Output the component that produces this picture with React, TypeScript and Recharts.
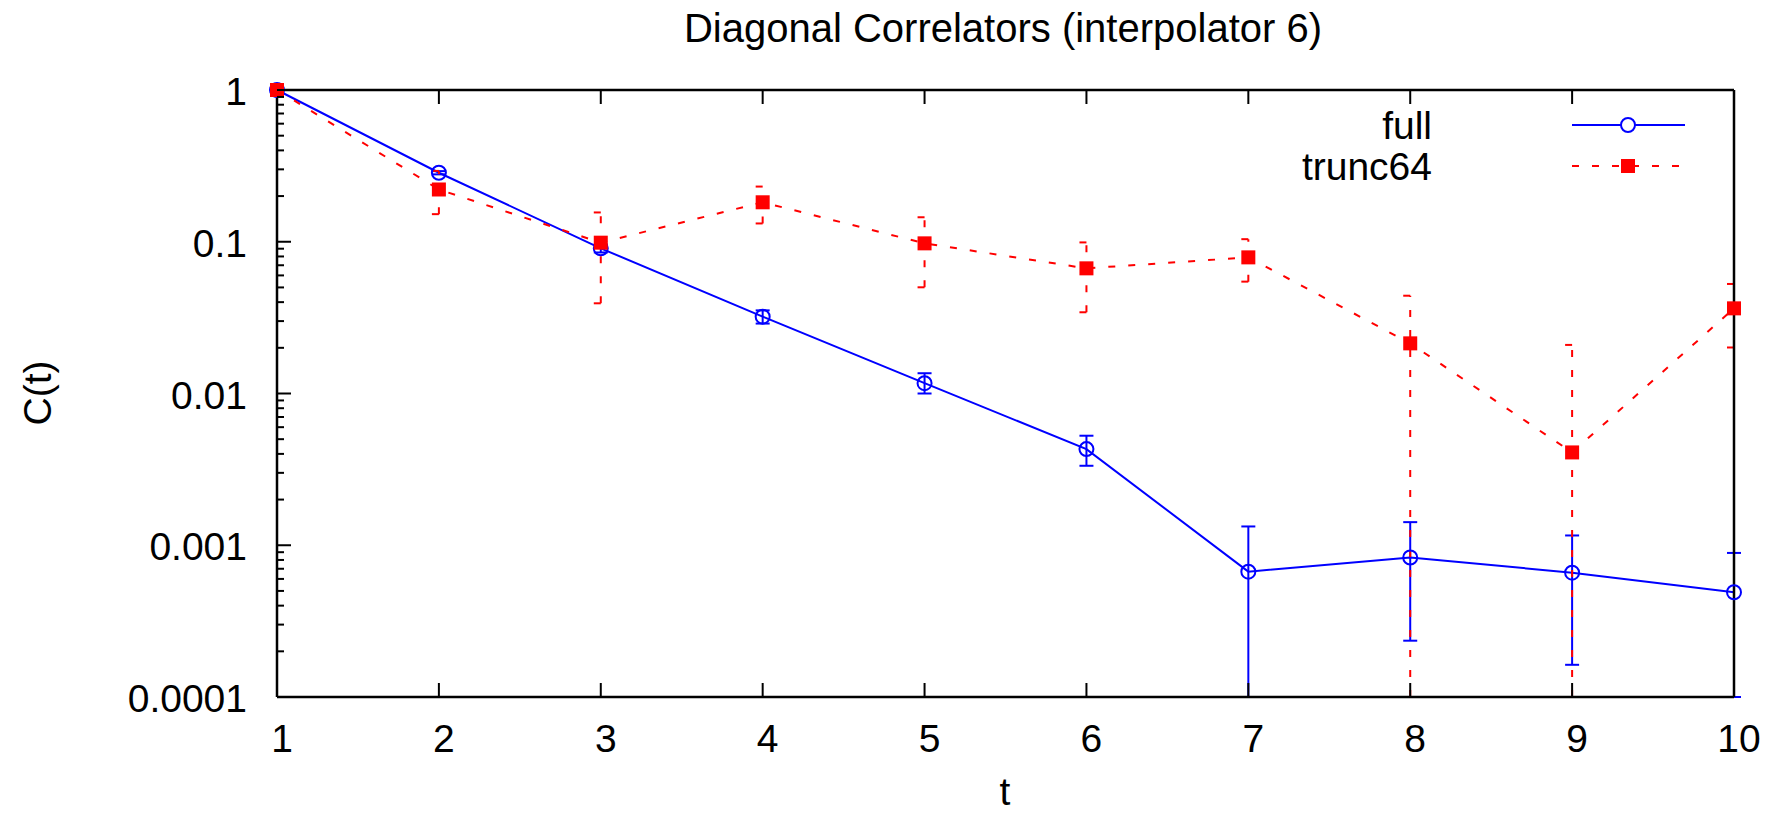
import React from 'react';
import { LineChart, Line, XAxis, YAxis, ErrorBar, Legend } from 'recharts';

// ---- data ----
const tValues = [1, 2, 3, 4, 5, 6, 7, 8, 9, 10];

const fullValues = [1.0, 0.285, 0.0905, 0.0321, 0.0117, 0.0043, 0.00067, 0.00083, 0.00066, 0.00049];
const fullLower = [1.0, 0.278, 0.085, 0.0289, 0.01, 0.00334, 0.0001, 0.000235, 0.000163, 0.0001];
const fullUpper = [1.0, 0.292, 0.096, 0.0353, 0.0136, 0.00527, 0.00133, 0.00142, 0.00116, 0.00089];

const truncValues = [1.0, 0.221, 0.0986, 0.182, 0.0976, 0.0668, 0.0789, 0.0214, 0.00409, 0.0364];
const truncLower = [1.0, 0.152, 0.0393, 0.132, 0.0501, 0.0343, 0.0546, 0.0001, 0.0001, 0.0201];
const truncUpper = [1.0, 0.293, 0.156, 0.231, 0.145, 0.099, 0.104, 0.0441, 0.0209, 0.0527];

const xTicks = [1, 2, 3, 4, 5, 6, 7, 8, 9, 10];
const xTickLabels = ['1', '2', '3', '4', '5', '6', '7', '8', '9', '10'];
const yMajorTicks = [1, 0.1, 0.01, 0.001, 0.0001];
const yTickLabels = ['1', '0.1', '0.01', '0.001', '0.0001'];
const minorMultipliers = [2, 3, 4, 5, 6, 7, 8, 9];

const seriesNames = { full: 'full', trunc: 'trunc64' };
const titleText = 'Diagonal Correlators (interpolator 6)';
const xLabel = 't';
const yLabel = 'C(t)';

// ---- derived tables ----
const yMinorTicks = yMajorTicks.slice(1).flatMap((d) => minorMultipliers.map((m) => m * d));
const yAllTicks = [...yMajorTicks, ...yMinorTicks].sort((a, b) => a - b);

const tableData = tValues.map((t, i) => ({
  t,
  full: fullValues[i],
  fullErr: [fullValues[i] - fullLower[i], fullUpper[i] - fullValues[i]],
  trunc: truncValues[i],
  truncErr: [truncValues[i] - truncLower[i], truncUpper[i] - truncValues[i]],
}));

const FONT = '"Liberation Sans", Arial, Helvetica, sans-serif';
const FS = 39;
const BLUE = '#0000ff';
const RED = '#ff0000';
const DASH = '7 13';

const majorIndex = (v: number) => yMajorTicks.findIndex((m) => Math.abs(v - m) / m < 1e-6);

const LeftTick = (p: any) => {
  const { x, y, payload } = p;
  const idx = majorIndex(payload.value);
  const len = idx >= 0 ? 14 : 7;
  return (
    <g>
      <line x1={x} x2={x + len} y1={y} y2={y} stroke="#000" strokeWidth={2} />
      {idx >= 0 && (
        <text x={x - 30} y={y + 15} textAnchor="end" fontSize={FS} fontFamily={FONT} fill="#000">
          {yTickLabels[idx]}
        </text>
      )}
    </g>
  );
};

const RightTick = (p: any) => {
  const { x, y, payload } = p;
  const idx = majorIndex(payload.value);
  const len = idx >= 0 ? 14 : 7;
  return <line x1={x} x2={x - len} y1={y} y2={y} stroke="#000" strokeWidth={2} />;
};

const BottomTick = (p: any) => {
  const { x, y, payload } = p;
  const idx = xTicks.indexOf(payload.value);
  return (
    <g>
      <line x1={x} x2={x} y1={y} y2={y - 14} stroke="#000" strokeWidth={2} />
      <text x={x + 5} y={y + 55} textAnchor="middle" fontSize={FS} fontFamily={FONT} fill="#000">
        {idx >= 0 ? xTickLabels[idx] : ''}
      </text>
    </g>
  );
};

const TopTick = (p: any) => {
  const { x, y } = p;
  return <line x1={x} x2={x} y1={y} y2={y + 14} stroke="#000" strokeWidth={2} />;
};

const CircleDot = (p: any) => {
  const { cx, cy } = p;
  if (cx == null || cy == null) return <g />;
  return <circle cx={cx} cy={cy} r={7} fill="none" stroke={BLUE} strokeWidth={2} />;
};

const SquareDot = (p: any) => {
  const { cx, cy } = p;
  if (cx == null || cy == null) return <g />;
  return <rect x={cx - 7} y={cy - 7} width={14} height={14} fill={RED} />;
};

const LegendContent = (props: any) => {
  const payload = props.payload || [];
  const rowY = [30, 71];
  return (
    <svg width={420} height={90} style={{ overflow: 'visible' }}>
      {payload.map((entry: any, i: number) => {
        const isFull = entry.dataKey === 'full';
        const y = rowY[i] ?? 30 + i * 41;
        return (
          <g key={i}>
            <text x={152} y={y + 14} textAnchor="end" fontSize={FS} fontFamily={FONT} fill="#000">
              {entry.value}
            </text>
            <line
              x1={292}
              x2={405}
              y1={y}
              y2={y}
              stroke={isFull ? BLUE : RED}
              strokeWidth={2}
              strokeDasharray={isFull ? undefined : DASH}
            />
            {isFull ? (
              <circle cx={348} cy={y} r={7} fill="#fff" stroke={BLUE} strokeWidth={2} />
            ) : (
              <rect x={341} y={y - 7} width={14} height={14} fill={RED} />
            )}
          </g>
        );
      })}
    </svg>
  );
};

export default function App() {
  return (
    <div
      style={{
        position: 'fixed',
        left: 0,
        top: 0,
        width: 1774,
        height: 816,
        overflow: 'hidden',
        background: '#fff',
        fontFamily: FONT,
      }}
    >
      <LineChart
        width={1774}
        height={816}
        data={tableData}
        margin={{ top: 80, right: 30, bottom: 0, left: 0 }}
      >
        <Line
          xAxisId="bottom"
          yAxisId="left"
          type="linear"
          dataKey="full"
          name={seriesNames.full}
          stroke={BLUE}
          strokeWidth={2}
          dot={(p: any) => <CircleDot key={`c${p.index}`} {...p} />}
          activeDot={false}
          isAnimationActive={false}
        >
          <ErrorBar dataKey="fullErr" direction="y" width={7} stroke={BLUE} strokeWidth={2} isAnimationActive={false} />
        </Line>
        <Line
          xAxisId="bottom"
          yAxisId="left"
          type="linear"
          dataKey="trunc"
          name={seriesNames.trunc}
          stroke={RED}
          strokeWidth={2}
          strokeDasharray={DASH}
          dot={(p: any) => <SquareDot key={`s${p.index}`} {...p} />}
          activeDot={false}
          isAnimationActive={false}
        >
          <ErrorBar
            dataKey="truncErr"
            direction="y"
            width={7}
            stroke={RED}
            strokeWidth={2}
            strokeDasharray={DASH}
            isAnimationActive={false}
          />
        </Line>
        <XAxis
          xAxisId="bottom"
          dataKey="t"
          type="number"
          domain={[1, 10]}
          ticks={xTicks}
          interval={0}
          orientation="bottom"
          height={119}
          tickSize={0}
          tickMargin={0}
          tickLine={false}
          axisLine={{ stroke: '#000', strokeWidth: 2.5 }}
          tick={(p: any) => <BottomTick {...p} />}
        />
        <XAxis
          xAxisId="top"
          type="number"
          domain={[1, 10]}
          ticks={xTicks}
          interval={0}
          orientation="top"
          height={10}
          tickSize={0}
          tickMargin={0}
          tickLine={false}
          axisLine={{ stroke: '#000', strokeWidth: 2.5 }}
          tick={(p: any) => <TopTick {...p} />}
        />
        <YAxis
          yAxisId="left"
          type="number"
          scale="log"
          domain={[0.0001, 1]}
          ticks={yAllTicks}
          interval={0}
          orientation="left"
          width={277}
          tickSize={0}
          tickMargin={0}
          tickLine={false}
          axisLine={{ stroke: '#000', strokeWidth: 2.5 }}
          tick={(p: any) => <LeftTick {...p} />}
        />
        <YAxis
          yAxisId="right"
          type="number"
          scale="log"
          domain={[0.0001, 1]}
          ticks={yAllTicks}
          interval={0}
          orientation="right"
          width={10}
          tickSize={0}
          tickMargin={0}
          tickLine={false}
          axisLine={{ stroke: '#000', strokeWidth: 2.5 }}
          tick={(p: any) => <RightTick {...p} />}
        />
        <Legend
          layout="horizontal"
          verticalAlign="middle"
          align="center"
          width={420}
          height={90}
          wrapperStyle={{ left: 1280, top: 95, width: 420, height: 90 }}
          content={(p: any) => <LegendContent {...p} />}
        />
      </LineChart>
      <svg
        width={1774}
        height={816}
        style={{ position: 'absolute', left: 0, top: 0, pointerEvents: 'none' }}
      >
        <text x={1003} y={42} textAnchor="middle" fontSize={40} fontFamily={FONT} fill="#000">
          {titleText}
        </text>
        <text x={1005} y={805} textAnchor="middle" fontSize={FS} fontFamily={FONT} fill="#000">
          {xLabel}
        </text>
        <text
          x={37}
          y={393}
          textAnchor="middle"
          dominantBaseline="central"
          fontSize={FS}
          fontFamily={FONT}
          fill="#000"
          transform="rotate(-90 37 393)"
        >
          {yLabel}
        </text>
      </svg>
    </div>
  );
}
